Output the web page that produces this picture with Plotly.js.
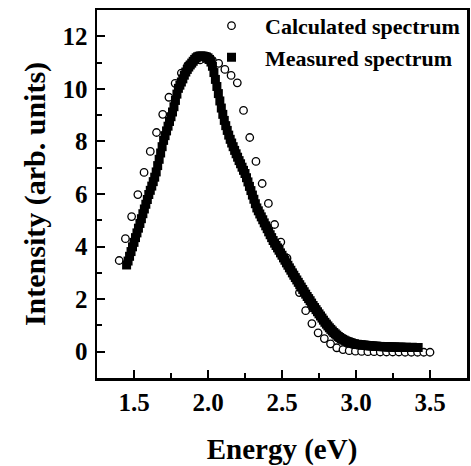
<!DOCTYPE html>
<html>
<head>
<meta charset="utf-8">
<script src="https://cdn.plot.ly/plotly-3.0.1.min.js"></script>
<style>html,body{margin:0;padding:0;background:#fff;}#chart{width:471px;height:466px;}</style>
</head>
<body>
<div id="chart"></div>
<script>
// Calculated spectrum (open circles)
const calcEnergy = [1.400,1.442,1.484,1.526,1.568,1.610,1.652,1.694,1.736,1.778,
  1.820,1.862,1.904,1.946,1.988,2.030,2.072,2.114,2.156,2.198,
  2.240,2.282,2.324,2.366,2.408,2.450,2.492,2.534,2.576,2.618,
  2.660,2.702,2.744,2.786,2.828,2.870,2.912,2.954,2.996,3.038,
  3.080,3.122,3.164,3.206,3.248,3.290,3.332,3.374,3.416,3.458,3.500];
const calcIntensity = [3.47,4.30,5.14,5.98,6.82,7.62,8.34,9.03,9.68,10.21,
  10.60,10.88,11.05,11.10,11.12,11.08,10.97,10.74,10.51,10.23,
  9.18,8.15,7.24,6.40,5.64,4.84,4.17,3.56,3.01,2.25,
  1.56,1.07,0.72,0.50,0.30,0.15,0.08,0.04,0.02,0.01,
  0.00,0.00,-0.01,-0.01,-0.01,-0.01,-0.02,-0.02,-0.02,-0.02,-0.02];

// Measured spectrum (filled squares)
const measEnergy = [1.45,1.46,1.47,1.48,1.49,1.50,1.51,1.52,1.53,1.54,
  1.55,1.56,1.57,1.58,1.59,1.60,1.61,1.62,1.63,1.64,
  1.65,1.66,1.67,1.68,1.69,1.70,1.71,1.72,1.73,1.74,
  1.75,1.76,1.77,1.78,1.79,1.80,1.81,1.82,1.83,1.84,
  1.85,1.86,1.87,1.88,1.89,1.90,1.91,1.92,1.93,1.94,
  1.95,1.96,1.97,1.98,1.99,2.00,2.01,2.02,2.03,2.04,
  2.05,2.06,2.07,2.08,2.09,2.10,2.11,2.12,2.13,2.14,
  2.15,2.16,2.17,2.18,2.19,2.20,2.21,2.22,2.23,2.24,
  2.25,2.26,2.27,2.28,2.29,2.30,2.31,2.32,2.33,2.34,
  2.35,2.36,2.37,2.38,2.39,2.40,2.41,2.42,2.43,2.44,
  2.45,2.46,2.47,2.48,2.49,2.50,2.51,2.52,2.53,2.54,
  2.55,2.56,2.57,2.58,2.59,2.60,2.61,2.62,2.63,2.64,
  2.65,2.66,2.67,2.68,2.69,2.70,2.71,2.72,2.73,2.74,
  2.75,2.76,2.77,2.78,2.79,2.80,2.81,2.82,2.83,2.84,
  2.85,2.86,2.87,2.88,2.89,2.90,2.91,2.92,2.93,2.94,
  2.95,2.96,2.97,2.98,2.99,3.00,3.01,3.02,3.03,3.04,
  3.05,3.06,3.07,3.08,3.09,3.10,3.11,3.12,3.13,3.14,
  3.15,3.16,3.17,3.18,3.19,3.20,3.21,3.22,3.23,3.24,
  3.25,3.26,3.27,3.28,3.29,3.30,3.31,3.32,3.33,3.34,
  3.35,3.36,3.37,3.38,3.39,3.40,3.41,3.42];
const measIntensity = [3.30,3.45,3.63,3.81,3.99,4.16,4.34,4.52,4.70,4.88,
  5.06,5.25,5.43,5.61,5.79,5.98,6.14,6.30,6.47,6.64,
  6.84,7.08,7.32,7.56,7.80,8.04,8.22,8.40,8.58,8.76,
  8.94,9.12,9.32,9.56,9.80,10.02,10.14,10.26,10.38,10.52,
  10.64,10.74,10.83,10.91,10.98,11.05,11.12,11.18,11.22,11.24,
  11.25,11.25,11.24,11.23,11.21,11.18,11.12,11.02,10.86,10.62,
  10.36,10.09,9.82,9.54,9.27,9.03,8.80,8.60,8.42,8.24,
  8.08,7.94,7.80,7.66,7.53,7.40,7.27,7.15,7.02,6.90,
  6.78,6.62,6.46,6.29,6.13,5.96,5.80,5.63,5.47,5.36,
  5.24,5.13,5.02,4.90,4.79,4.68,4.56,4.45,4.34,4.23,
  4.13,4.04,3.95,3.86,3.76,3.67,3.57,3.48,3.38,3.29,
  3.19,3.10,3.00,2.91,2.82,2.73,2.64,2.55,2.46,2.37,
  2.28,2.19,2.10,2.02,1.94,1.85,1.76,1.68,1.60,1.52,
  1.44,1.36,1.28,1.20,1.12,1.05,0.98,0.91,0.85,0.79,
  0.73,0.68,0.63,0.58,0.54,0.50,0.47,0.44,0.41,0.39,
  0.37,0.35,0.33,0.31,0.30,0.28,0.28,0.27,0.26,0.26,
  0.25,0.25,0.24,0.23,0.23,0.22,0.22,0.21,0.21,0.21,
  0.20,0.20,0.20,0.19,0.19,0.19,0.19,0.18,0.18,0.18,
  0.18,0.18,0.17,0.17,0.17,0.17,0.17,0.17,0.16,0.17,
  0.16,0.16,0.16,0.17,0.16,0.16,0.16,0.16];

const xTickVals = [1.5, 2.0, 2.5, 3.0, 3.5];
const xTickText = ["1.5", "2.0", "2.5", "3.0", "3.5"];
const yTickVals = [0, 2, 4, 6, 8, 10, 12];
const yTickText = ["0", "2", "4", "6", "8", "10", "12"];

const FONT = "Liberation Serif, Times New Roman, serif";

const traces = [
  {
    x: calcEnergy, y: calcIntensity, type: "scatter", mode: "markers",
    name: "<b>Calculated spectrum</b>", legendrank: 1,
    marker: {symbol: "circle", size: 7.5, color: "#fff", line: {width: 1.3, color: "#000"}}
  },
  {
    x: measEnergy, y: measIntensity, type: "scatter", mode: "markers",
    name: "<b>Measured spectrum</b>", legendrank: 2,
    marker: {symbol: "square", size: 9, color: "#000", line: {width: 0}}
  }
];

const axisCommon = {
  showline: true, linecolor: "#000", linewidth: 2.5, mirror: true,
  ticks: "inside", tickcolor: "#000", tickwidth: 2, ticklen: 8,
  showgrid: false, zeroline: false,
  tickfont: {family: FONT, size: 25, color: "#000", weight: "bold"}
};

const layout = {
  width: 471, height: 466,
  margin: {l: 97, r: 4, t: 10, b: 88},
  paper_bgcolor: "#fff", plot_bgcolor: "#fff",
  font: {family: FONT, color: "#000"},
  showlegend: true,
  legend: {
    x: 0.273, y: 1.014, xanchor: "left", yanchor: "top",
    bgcolor: "rgba(0,0,0,0)", borderwidth: 0,
    font: {family: FONT, size: 22, color: "#000", weight: "bold"},
    itemwidth: 57, tracegroupgap: 0
  },
  xaxis: Object.assign({}, axisCommon, {
    range: [1.25, 3.75], tickmode: "array", tickvals: xTickVals, ticktext: xTickText,
    minor: {dtick: 0.25, tick0: 1.25, ticks: "inside", ticklen: 5, tickwidth: 2, tickcolor: "#000"},
    ticklabelstandoff: 0,
    title: {text: "<b>Energy (eV)</b>", font: {family: FONT, size: 29, color: "#000"}, standoff: 26}
  }),
  yaxis: Object.assign({}, axisCommon, {
    range: [-1, 13], tickmode: "array", tickvals: yTickVals, ticktext: yTickText,
    minor: {dtick: 1, tick0: -1, ticks: "inside", ticklen: 5, tickwidth: 2, tickcolor: "#000"},
    ticklabelstandoff: 2,
    title: {text: "<b>Intensity (arb. units)</b>", font: {family: FONT, size: 30, color: "#000"}, standoff: 8}
  })
};

Plotly.newPlot("chart", traces, layout, {displayModeBar: false, staticPlot: true});
</script>
</body>
</html>
